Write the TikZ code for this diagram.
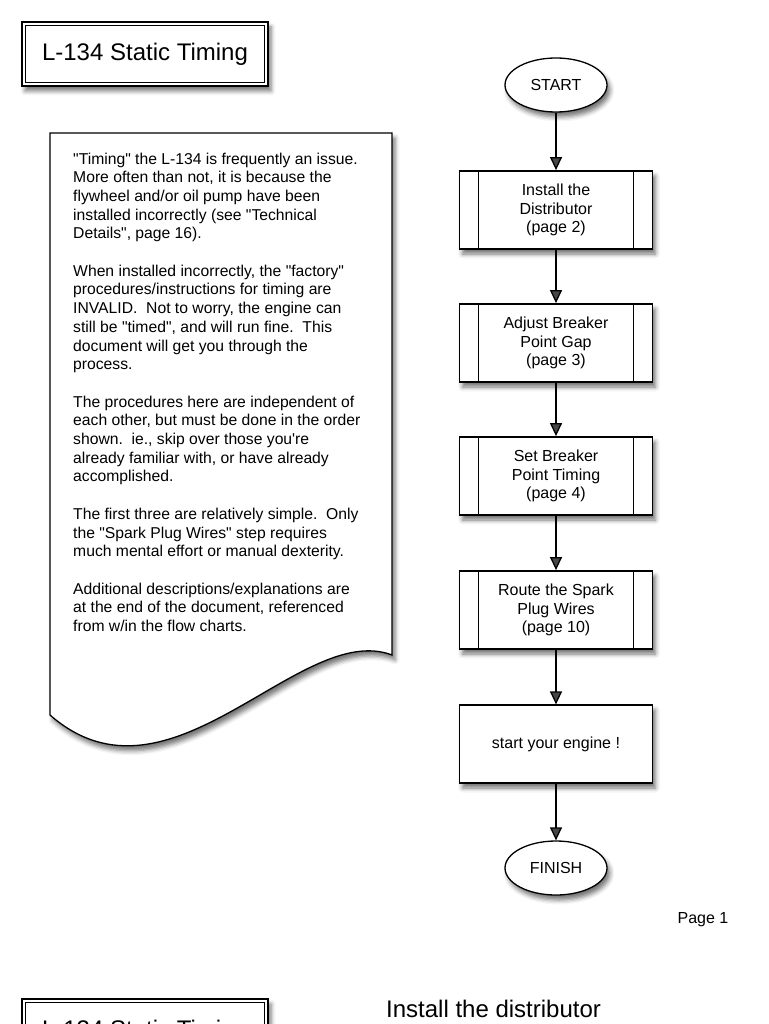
\documentclass[tikz,border=0pt]{standalone}
\usepackage{fontspec}
\setmainfont{Liberation Sans}[Ligatures=TeXOff]
\usetikzlibrary{shapes.geometric,arrows.meta,shadows.blur}
\begin{document}
\begin{tikzpicture}[x=1pt,y=-1pt,
  every node/.style={font=\fontsize{16}{18.7}\selectfont},
  shad/.style={blur shadow={shadow xshift=3pt,shadow yshift=-5pt,shadow blur radius=4.5pt,shadow opacity=55}},
  procbox/.style={draw,line width=1.8pt,fill=white,minimum width=193pt,minimum height=78pt,align=center,shad,inner sep=0pt},
  plainbox/.style={draw,line width=1.2pt,fill=white,minimum width=193pt,minimum height=78pt,align=center,shad,inner sep=0pt},
  term/.style={draw,ellipse,line width=1.3pt,fill=white,minimum width=102pt,minimum height=54pt,shad,inner sep=0pt},
  titlebox/.style={draw,line width=2pt,fill=white,minimum width=246pt,minimum height=64pt,shad,inner sep=0pt,font=\fontsize{24}{28}\selectfont},
  flow/.style={line width=1.3pt,-{Triangle[length=13pt,width=12pt]}},
  inner/.style={line width=1.8pt},
  divider/.style={line width=1.2pt},
]
\useasboundingbox (0,0) rectangle (768,1024);
\clip (0,0) rectangle (768,1024);

% title
\node[titlebox] (title) at (145,54) {L-134 Static Timing};
\draw[inner] ([shift={(4.5,4.5)}]title.north west) rectangle ([shift={(-4.5,-4.5)}]title.south east);

% document shape
\draw[line width=1.3pt,fill=white,shad] (50,133) -- (392,133) -- (392,655)
  .. controls (300,620) and (170,820) .. (50,715) -- cycle;
\node[anchor=north west,align=left,inner sep=0pt,font=\fontsize{15.7}{18.7}\selectfont] (doctext) at (73,152.5) {%
"Timing" the L-134 is frequently an issue.\\
More often than not, it is because the\\
flywheel and/or oil pump have been\\
installed incorrectly (see "Technical\\
Details", page 16).\\[18.7pt]
When installed incorrectly, the "factory"\\
procedures/instructions for timing are\\
INVALID.\ \ Not to worry, the engine can\\
still be "timed", and will run fine.\ \ This\\
document will get you through the\\
process.\\[18.7pt]
The procedures here are independent of\\
each other, but must be done in the order\\
shown.\ \ ie., skip over those you're\\
already familiar with, or have already\\
accomplished.\\[18.7pt]
The first three are relatively simple.\ \ Only\\
the "Spark Plug Wires" step requires\\
much mental effort or manual dexterity.\\[18.7pt]
Additional descriptions/explanations are\\
at the end of the document, referenced\\
from w/in the flow charts.};

% flow chart
\node[term] (start) at (556,85) {START};
\node[procbox] (b1) at (556,210) {Install the\\Distributor\\(page 2)};
\node[procbox] (b2) at (556,343) {Adjust Breaker\\Point Gap\\(page 3)};
\node[procbox] (b3) at (556,476) {Set Breaker\\Point Timing\\(page 4)};
\node[procbox] (b4) at (556,610) {Route the Spark\\Plug Wires\\(page 10)};
\node[plainbox] (b5) at (556,744) {start your engine !};
\node[term] (finish) at (556,868) {FINISH};

\foreach \b in {b1,b2,b3,b4}{
  \draw[divider] ([xshift=20pt]\b.north west) -- ([xshift=20pt]\b.south west);
  \draw[divider] ([xshift=-20pt]\b.north east) -- ([xshift=-20pt]\b.south east);
}

\draw[flow] (start.south) -- (b1.north);
\draw[flow] (b1.south) -- (b2.north);
\draw[flow] (b2.south) -- (b3.north);
\draw[flow] (b3.south) -- (b4.north);
\draw[flow] (b4.south) -- (b5.north);
\draw[flow] (b5.south) -- (finish.north);

\node (pagenum) at (703,920) {Page 1};

% next page top
\node[titlebox] (title2) at (145,1031) {L-134 Static Timing};
\draw[inner] ([shift={(4.5,4.5)}]title2.north west) rectangle ([shift={(-4.5,-4.5)}]title2.south east);
\node[anchor=base west,inner sep=0pt,font=\fontsize{24}{28}\selectfont] (heading2) at (386,1017) {Install the distributor};
\end{tikzpicture}
\end{document}
